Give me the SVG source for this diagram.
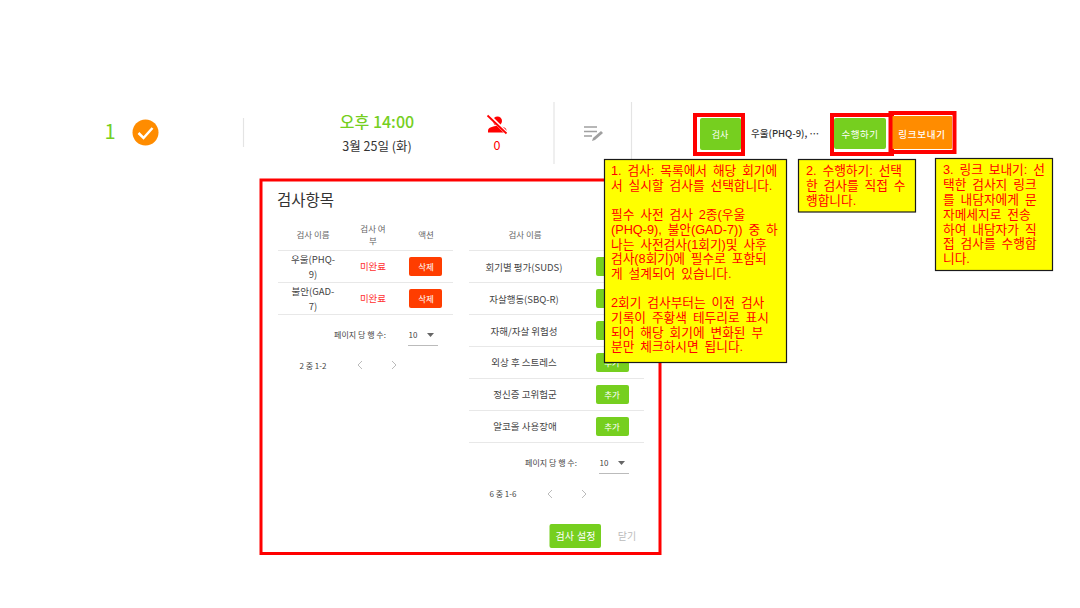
<svg xmlns="http://www.w3.org/2000/svg" width="1080" height="608" viewBox="0 0 1080 608">
<defs>
<style>
text{font-family:"Noto Sans CJK KR","Noto Sans",sans-serif;text-anchor:middle}
.sep{stroke:#e4e4e4;stroke-width:1.2;fill:none}
.rowline{stroke:#e8e8e8;stroke-width:1;fill:none}
.red{fill:none;stroke:#ff0000;stroke-width:4}
.green{fill:#76cf1f}
.orange{fill:#ff8c00}
.del{fill:#ff3d00}
.note{fill:#ffff00;stroke:#1a1a1a;stroke-width:1.2}
.nt{fill:#ff0000;font-size:12.7px;word-spacing:2.4px;text-anchor:start;font-family:"Liberation Sans","Noto Sans CJK KR",sans-serif}
.th{font-size:8.5px;fill:#666}
.td{font-size:9.5px;fill:#444}
.btn{font-size:8.5px;fill:#fff}
.pg{font-size:8px;fill:#444}
.chev{fill:none;stroke:#bbb;stroke-width:1}
</style>
</defs>
<rect width="1080" height="608" fill="#ffffff"/>

<g id="row">
<text x="110" y="139" font-size="20" fill="#76cf1f">1</text>
<circle cx="145.500" cy="132.500" r="13" class="orange"/>
<path d="M138.500 133l5 5 9-10" fill="none" stroke="#fff" stroke-width="2.500"/>
<path class="sep" d="M243.500 118V147"/>
<text x="377" y="128" font-size="16" font-weight="500" fill="#76cf1f">오후 14:00</text>
<text x="377" y="151" font-size="12.500" fill="#333">3월 25일 (화)</text>
<circle cx="497.500" cy="121" r="4.500" fill="#ff0000"/>
<path d="M488 132.500v-2c0-3 5-4.500 9.500-4.500s9 1.500 9 4.500v2z" fill="#ff0000"/>
<path d="M488.500 115l18 18" stroke="#fff" stroke-width="3.500"/>
<path d="M487.500 115.500l19 18" stroke="#ff0000" stroke-width="1.800"/>
<text x="497" y="150" font-size="12.500" fill="#ff0000">0</text>
<path class="sep" d="M554 102V164" stroke-width="1.500"/>
<path d="M584 127h13M584 131.500h13M584 136h8" stroke="#a0a0a0" stroke-width="1.600" fill="none"/>
<path d="M592 141l1-3 8-7 2 2-8 7z" fill="#a0a0a0"/>
<path class="sep" d="M631.500 102V164"/>
</g>

<g id="btn-check">
<rect x="700" y="118" width="41" height="32" rx="2" class="green"/>
<text x="720" y="137.500" class="btn" style="font-size:9px">검사</text>
<rect x="695" y="115" width="48" height="39" class="red"/>
</g>
<text x="785" y="137" font-size="9.500" font-weight="500" fill="#333">우울(PHQ-9), ⋯</text>
<g id="btn-run">
<rect x="834" y="118" width="52" height="31" rx="2" class="green"/>
<text x="860" y="137.500" style="font-size:9.500px;letter-spacing:.5px" class="btn">수행하기</text>
<rect x="832" y="115" width="60" height="39" class="red"/>
</g>
<g id="btn-link">
<rect x="892" y="116" width="60" height="33" rx="1" class="orange"/>
<text x="922" y="137.500" style="font-size:9.500px;letter-spacing:.8px;font-weight:500" class="btn">링크보내기</text>
<rect x="890.500" y="113" width="64" height="39" class="red"/>
</g>

<g id="dialog">
<rect x="261" y="180" width="399" height="373.500" fill="#fff" stroke="#ff0000" stroke-width="3"/>
<text x="305.500" y="206" font-size="15.500" fill="#333">검사항목</text>

<text x="313" y="238" class="th">검사 이름</text>
<text x="373" y="232" class="th">검사 여</text>
<text x="373" y="244" class="th">부</text>
<text x="426" y="238" class="th">액션</text>
<path class="rowline" d="M278 250.500H453M278 282.500H453M278 314.500H453"/>
<text x="313" y="263" class="td">우울(PHQ-</text>
<text x="313" y="278" class="td">9)</text>
<text x="373" y="270" style="font-size:9.500px;fill:#ff3030">미완료</text>
<rect x="409" y="257" width="33" height="19" rx="2" class="del"/>
<text x="426" y="270" class="btn">삭제</text>
<text x="313" y="295" class="td">불안(GAD-</text>
<text x="313" y="310" class="td">7)</text>
<text x="373" y="302" style="font-size:9.500px;fill:#ff3030">미완료</text>
<rect x="409" y="289" width="33" height="19" rx="2" class="del"/>
<text x="426" y="302" class="btn">삭제</text>
<text x="360" y="338" class="pg">페이지 당 행 수:</text>
<text x="413" y="338" class="pg">10</text>
<path d="M427 333h7l-3.500 4z" fill="#666"/>
<path d="M408 345.500H438" stroke="#bbb" fill="none"/>
<text x="313" y="369" class="pg">2 중 1-2</text>
<path class="chev" d="M362 361l-4 4 4 4M392 361l4 4-4 4"/>

<text x="525" y="238" class="th">검사 이름</text>
<path class="rowline" d="M469 250.500H644M469 282.500H644M469 314.500H644M469 346.500H644M469 378.500H644M469 410.500H644M469 442.500H644"/>
<text x="524" y="271" class="td">회기별 평가(SUDS)</text>
<text x="524" y="303" class="td">자살행동(SBQ-R)</text>
<text x="524" y="335" class="td">자해/자살 위험성</text>
<text x="524" y="366" class="td">외상 후 스트레스</text>
<text x="525" y="398" class="td">정신증 고위험군</text>
<text x="525" y="430" class="td">알코올 사용장애</text>
<rect x="596" y="257" width="33" height="19" rx="2" class="green"/>
<rect x="596" y="289" width="33" height="19" rx="2" class="green"/>
<rect x="596" y="321" width="33" height="19" rx="2" class="green"/>
<rect x="596" y="353" width="33" height="19" rx="2" class="green"/>
<text x="612" y="366" class="btn">추가</text>
<rect x="596" y="385" width="33" height="19" rx="2" class="green"/>
<text x="612" y="398" class="btn">추가</text>
<rect x="596" y="417" width="33" height="19" rx="2" class="green"/>
<text x="612" y="430" class="btn">추가</text>
<text x="551" y="466" class="pg">페이지 당 행 수:</text>
<text x="604" y="466" class="pg">10</text>
<path d="M618 461h7l-3.500 4z" fill="#666"/>
<path d="M599 473.500H629" stroke="#bbb" fill="none"/>
<text x="503" y="497" class="pg">6 중 1-6</text>
<path class="chev" d="M552 490l-4 4 4 4M582 490l4 4-4 4"/>
<rect x="549.500" y="524" width="51.500" height="24" rx="2" class="green"/>
<text x="575.500" y="540" style="font-size:10px;word-spacing:1px" class="btn">검사 설정</text>
<text x="627" y="540" font-size="10" fill="#bbb">닫기</text>
</g>

<g id="note-1">
<rect x="604.500" y="159.500" width="182" height="203" class="note"/>
<text class="nt"><tspan x="611" y="175">1. 검사: 목록에서 해당 회기에</tspan><tspan x="611" y="190">서 실시할 검사를 선택합니다.</tspan><tspan x="611" y="219">필수 사전 검사 2종(우울</tspan><tspan x="611" y="234">(PHQ-9), 불안(GAD-7)) 중 하</tspan><tspan x="611" y="249">나는 사전검사(1회기)및 사후</tspan><tspan x="611" y="263">검사(8회기)에 필수로 포함되</tspan><tspan x="611" y="278">게 설계되어 있습니다.</tspan><tspan x="611" y="307">2회기 검사부터는 이전 검사</tspan><tspan x="611" y="322">기록이 주황색 테두리로 표시</tspan><tspan x="611" y="337">되어 해당 회기에 변화된 부</tspan><tspan x="611" y="351">분만 체크하시면 됩니다.</tspan></text>
</g>
<g id="note-2">
<rect x="798.500" y="159.500" width="117" height="52.500" class="note"/>
<text class="nt"><tspan x="806" y="175">2. 수행하기: 선택</tspan><tspan x="806" y="190">한 검사를 직접 수</tspan><tspan x="806" y="205">행합니다.</tspan></text>
</g>
<g id="note-3">
<rect x="935.500" y="158.500" width="117" height="112" class="note"/>
<text class="nt"><tspan x="943" y="174">3. 링크 보내기: 선</tspan><tspan x="943" y="189">택한 검사지 링크</tspan><tspan x="943" y="204">를 내담자에게 문</tspan><tspan x="943" y="219">자메세지로 전송</tspan><tspan x="943" y="234">하여 내담자가 직</tspan><tspan x="943" y="248">접 검사를 수행합</tspan><tspan x="943" y="263">니다.</tspan></text>
</g>
<g id="connectors"></g>
</svg>
